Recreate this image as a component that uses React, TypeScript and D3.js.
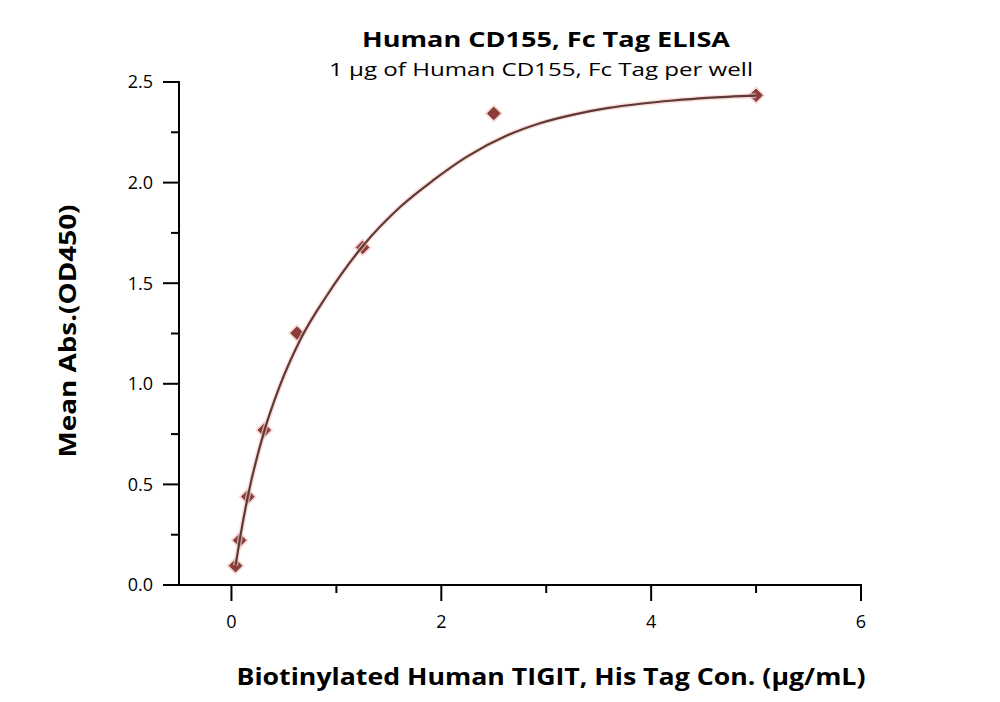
import React from "react";
import * as d3 from "d3";

const concX = [0.039, 0.078, 0.156, 0.3125, 0.625, 1.25, 2.5, 5];
const meanAbs = [0.096, 0.222, 0.439, 0.77, 1.252, 1.678, 2.344, 2.434];

const fitX = [0.039, 0.078, 0.156, 0.3125, 0.45, 0.657, 0.911, 1.26, 1.61, 1.927, 2.245, 2.63, 2.94, 3.26, 3.58, 3.9, 4.21, 4.53, 5.0];
const fitY = [0.096, 0.222, 0.44, 0.765, 0.975, 1.22, 1.44, 1.69, 1.88, 2.013, 2.129, 2.235, 2.295, 2.338, 2.37, 2.392, 2.408, 2.421, 2.432];

const xMajor = [0, 2, 4, 6];
const xMinor = [1, 3, 5];
const yMajor = [0, 0.5, 1.0, 1.5, 2.0, 2.5];
const yMinor = [0.25, 0.75, 1.25, 1.75, 2.25];

const title = "Human CD155, Fc Tag ELISA";
const subtitle = "1 μg of Human CD155, Fc Tag per well";
const xLabel = "Biotinylated Human TIGIT, His Tag Con. (μg/mL)";
const yLabel = "Mean Abs.(OD450)";

export default function App() {
  const W = 1000, H = 702;
  const x = d3.scaleLinear().domain([-0.5, 6]).range([179, 861]);
  const y = d3.scaleLinear().domain([0, 2.5]).range([585, 82]);
  const line = d3.line<number>().x((d) => x(fitX[d])).y((d) => y(fitY[d])).curve(d3.curveMonotoneX);
  const idx = fitX.map((_, i) => i);
  const pathD = line(idx) || "";
  const font = "'Open Sans', 'Liberation Sans', sans-serif";
  const diamond = d3.symbol().type(d3.symbolDiamond2).size(100)() || "";
  return (
    <svg width={W} height={H} style={{ position: "absolute", left: 0, top: 0, background: "#fff" }} fontFamily={font}>
      <text x={546} y={47} textAnchor="middle" fontWeight="bold" fontSize={21} textLength={368} lengthAdjust="spacingAndGlyphs">{title}</text>
      <text x={541} y={76} textAnchor="middle" fontSize={18} textLength={424} lengthAdjust="spacingAndGlyphs">{subtitle}</text>
      <line x1={179} x2={179} y1={81} y2={586} stroke="#000" strokeWidth={2} />
      <line x1={178} x2={862} y1={585} y2={585} stroke="#000" strokeWidth={2} />
      {yMajor.map((v) => (
        <g key={"ym" + v}>
          <line x1={163} x2={179} y1={y(v)} y2={y(v)} stroke="#000" strokeWidth={2} />
          <text x={153} y={y(v)} dy="0.35em" textAnchor="end" fontSize={18}>{v.toFixed(1)}</text>
        </g>
      ))}
      {yMinor.map((v) => (
        <line key={"yn" + v} x1={171} x2={179} y1={y(v)} y2={y(v)} stroke="#000" strokeWidth={2} />
      ))}
      {xMajor.map((v) => (
        <g key={"xm" + v}>
          <line x1={x(v)} x2={x(v)} y1={585} y2={601} stroke="#000" strokeWidth={2} />
          <text x={x(v)} y={628} textAnchor="middle" fontSize={18}>{v}</text>
        </g>
      ))}
      {xMinor.map((v) => (
        <line key={"xn" + v} x1={x(v)} x2={x(v)} y1={585} y2={593} stroke="#000" strokeWidth={2} />
      ))}
      <text x={551} y={685} textAnchor="middle" fontWeight="bold" fontSize={24} textLength={629} lengthAdjust="spacingAndGlyphs">{xLabel}</text>
      <text transform="translate(76,331) rotate(-90)" textAnchor="middle" fontWeight="bold" fontSize={24} textLength={253} lengthAdjust="spacingAndGlyphs">{yLabel}</text>
      {concX.map((cx, i) => (
        <g key={"p" + i} transform={`translate(${x(cx)},${y(meanAbs[i])})`}>
          <path d={diamond} fill="none" stroke="#f7d4d0" strokeWidth={4} />
          <path d={diamond} fill="#8e3c3a" stroke="#6b2b2a" strokeWidth={0.8} />
        </g>
      ))}
      <path d={pathD} fill="none" stroke="#f8d2cc" strokeWidth={5} strokeOpacity={0.7} />
      <path d={pathD} fill="none" stroke="#5e3a36" strokeWidth={2.2} />
    </svg>
  );
}
